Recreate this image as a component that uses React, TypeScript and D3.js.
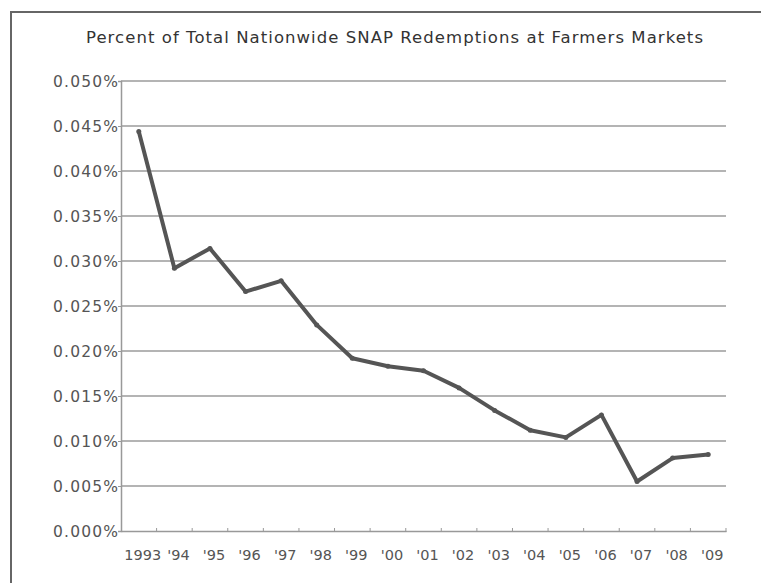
import { useEffect, useRef } from "react";
import * as d3 from "d3";

const years = ["1993", "'94", "'95", "'96", "'97", "'98", "'99", "'00", "'01", "'02", "'03", "'04", "'05", "'06", "'07", "'08", "'09"];
// percent of total SNAP redemptions
const percents = [0.0444, 0.0292, 0.0314, 0.0266, 0.0278, 0.0229, 0.0192, 0.0183, 0.0178, 0.0159, 0.0134, 0.0112, 0.0104, 0.0129, 0.0055, 0.0081, 0.0085];
const yTicks = [0, 0.005, 0.01, 0.015, 0.02, 0.025, 0.03, 0.035, 0.04, 0.045, 0.05];

const title = "Percent of Total Nationwide SNAP Redemptions at Farmers Markets";

export default function App() {
  const ref = useRef<SVGSVGElement>(null);
  const width = 761;
  const height = 583;

  useEffect(() => {
    const svg = d3.select(ref.current);
    svg.selectAll("*").remove();

    const margin = { left: 121, top: 81, right: 35, bottom: 52 };
    const font = "'DejaVu Sans', Verdana, sans-serif";

    svg.append("rect").attr("width", width).attr("height", height).attr("fill", "#fff");

    // outer frame, right and bottom edges fall outside the picture
    svg
      .append("rect")
      .attr("x", 11)
      .attr("y", 12)
      .attr("width", width + 40)
      .attr("height", height + 40)
      .attr("fill", "none")
      .attr("stroke", "#666")
      .attr("stroke-width", 2);

    svg
      .append("text")
      .attr("x", 86)
      .attr("y", 43)
      .attr("font-family", font)
      .attr("font-size", 16.5)
      .attr("fill", "#333")
      .attr("textLength", 617)
      .attr("lengthAdjust", "spacing")
      .text(title);

    const x = d3
      .scaleBand()
      .domain(years)
      .range([margin.left, width - margin.right]);

    const y = d3
      .scaleLinear()
      .domain([0, 0.05])
      .range([height - margin.bottom, margin.top]);

    // grid lines
    svg
      .append("g")
      .selectAll("line")
      .data(yTicks.slice(1))
      .join("line")
      .attr("x1", margin.left)
      .attr("x2", width - margin.right)
      .attr("y1", (d) => y(d))
      .attr("y2", (d) => y(d))
      .attr("stroke", "#b4b4b4")
      .attr("stroke-width", 1.8);

    // y axis
    const yAxis = svg
      .append("g")
      .attr("transform", `translate(${margin.left},0)`)
      .call(
        d3
          .axisLeft(y)
          .tickValues(yTicks)
          .tickSize(3)
          .tickFormat((d) => (d as number).toFixed(3) + "%")
      );
    yAxis.select(".domain").attr("stroke", "#999").attr("stroke-width", 1.5);
    yAxis.selectAll(".tick line").attr("stroke", "#999");
    yAxis
      .selectAll(".tick text")
      .attr("font-family", font)
      .attr("font-size", 15.5)
      .attr("fill", "#555")
      .attr("x", -3)
      .attr("dy", "0.36em")
      .attr("textLength", 65)
      .attr("lengthAdjust", "spacing");

    // x axis
    const xAxis = svg
      .append("g")
      .attr("transform", `translate(0,${height - margin.bottom})`)
      .call(d3.axisBottom(x).tickSize(0).tickPadding(0));
    xAxis.select(".domain").attr("stroke", "#999").attr("stroke-width", 1.5);
    xAxis
      .selectAll(".tick text")
      .attr("font-family", font)
      .attr("font-size", 14.5)
      .attr("fill", "#555")
      .attr("y", 29)
      .attr("dy", 0)
      .attr("dx", 4);

    // small tick marks between categories
    svg
      .append("g")
      .selectAll("line")
      .data(years.slice(1).concat(["end"]))
      .join("line")
      .attr("x1", (d) => (d === "end" ? width - margin.right : (x(d) as number)))
      .attr("x2", (d) => (d === "end" ? width - margin.right : (x(d) as number)))
      .attr("y1", height - margin.bottom - 3)
      .attr("y2", height - margin.bottom + 1)
      .attr("stroke", "#999")
      .attr("stroke-width", 1);

    // data line
    const line = d3
      .line<number>()
      .x((d, i) => (x(years[i]) as number) + x.bandwidth() / 2)
      .y((d) => y(d));

    svg
      .append("path")
      .datum(percents)
      .attr("d", line)
      .attr("fill", "none")
      .attr("stroke", "#555")
      .attr("stroke-width", 4)
      .attr("stroke-linejoin", "round");

    svg
      .append("g")
      .selectAll("circle")
      .data(percents)
      .join("circle")
      .attr("cx", (d, i) => (x(years[i]) as number) + x.bandwidth() / 2)
      .attr("cy", (d) => y(d))
      .attr("r", 2.5)
      .attr("fill", "#555");
  }, []);

  return (
    <svg
      ref={ref}
      width={width}
      height={height}
      style={{ display: "block", position: "fixed", left: 0, top: 0 }}
    />
  );
}
